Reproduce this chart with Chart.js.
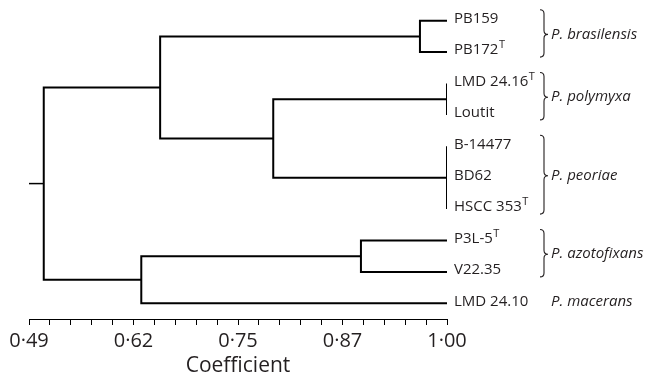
<!DOCTYPE html>
<html>
<head>
<meta charset="utf-8">
<script src="https://cdn.jsdelivr.net/npm/chart.js@4"></script>
<style>
  body { margin: 0; background: #fff; }
</style>
</head>
<body>
<canvas id="dendro" width="665" height="379"></canvas>
<script>
// leaves, top to bottom
const leafLabels = ["PB159", "PB172", "LMD 24.16", "Loutit", "B-14477", "BD62", "HSCC 353", "P3L-5", "V22.35", "LMD 24.10"];
const leafMark = ["", "T", "T", "", "", "", "T", "T", "", ""];
const leafCoef = 1.0;

// clusters: node ids 0-9 are leaves, merge k becomes node 10 + k
const mergeChildren = [[0, 1], [2, 3], [4, 5, 6], [11, 12], [10, 13], [7, 8], [15, 9], [14, 16]];
const mergeCoef = [0.967, 1.0, 1.0, 0.788, 0.65, 0.895, 0.627, 0.508];
const rootStart = 0.49;

const speciesNames = ["P. brasilensis", "P. polymyxa", "P. peoriae", "P. azotofixans", "P. macerans"];
const speciesFirst = [0, 2, 4, 7, 9];
const speciesLast = [1, 3, 6, 8, 9];

const tickLabels = ["0·49", "0·62", "0·75", "0·87", "1·00"];
const minorPerMajor = 5;

Chart.defaults.font.family = "'Open Sans', sans-serif";
const INK = "#231f20";

// positions of every node in data units
const nodeX = leafLabels.map(() => leafCoef);
const nodeY = leafLabels.map((_, i) => i);
const datasets = [];

mergeChildren.forEach((kids, k) => {
  const coef = mergeCoef[k];
  const first = kids[0];
  const last = kids[kids.length - 1];
  nodeX.push(coef);
  nodeY.push((nodeY[first] + nodeY[last]) / 2);
  datasets.push({
    data: [
      { x: nodeX[first], y: nodeY[first] },
      { x: coef, y: nodeY[first] },
      { x: coef, y: nodeY[last] },
      { x: nodeX[last], y: nodeY[last] },
    ],
    borderWidth: 2,
  });
  kids.slice(1, -1).forEach((c) => {
    datasets.push({
      data: [{ x: coef, y: nodeY[c] }, { x: nodeX[c], y: nodeY[c] }],
      borderWidth: 2,
    });
  });
});

// stub into the root
const root = nodeX.length - 1;
datasets.push({
  data: [{ x: rootStart, y: nodeY[root] }, { x: nodeX[root], y: nodeY[root] }],
  borderWidth: 1.5,
});

datasets.forEach((d) => {
  d.showLine = true;
  d.borderColor = "#000";
  d.pointRadius = 0;
  d.borderJoinStyle = "miter";
  d.borderCapStyle = "butt";
});

const labelPlugin = {
  id: "leafLabels",
  afterDatasetsDraw(chart) {
    const { ctx, scales } = chart;
    const xs = scales.x;
    const ys = scales.y;
    const right = xs.getPixelForValue(leafCoef);
    const rowY = (i) => ys.getPixelForValue(i) - 2;

    ctx.save();
    ctx.fillStyle = INK;
    ctx.textBaseline = "middle";
    ctx.textAlign = "left";

    leafLabels.forEach((name, i) => {
      ctx.font = "15px 'Open Sans'";
      const x = right + 7;
      ctx.fillText(name, x, rowY(i));
      if (leafMark[i]) {
        const w = ctx.measureText(name).width;
        ctx.font = "11px 'Open Sans'";
        ctx.fillText(leafMark[i], x + w + 0.5, rowY(i) - 5);
      }
    });

    // species braces and names
    ctx.strokeStyle = INK;
    ctx.lineWidth = 1.1;
    speciesNames.forEach((sp, s) => {
      const yt = rowY(speciesFirst[s]);
      const yb = rowY(speciesLast[s]);
      const ym = (yt + yb) / 2;
      if (speciesLast[s] > speciesFirst[s]) {
        const x0 = right + 93;
        const xm = right + 97;
        const x1 = right + 101;
        const top = yt - 9;
        const bot = yb + 7;
        const r = 4;
        ctx.beginPath();
        ctx.moveTo(x0, top);
        ctx.quadraticCurveTo(xm, top, xm, top + r);
        ctx.lineTo(xm, ym - r);
        ctx.quadraticCurveTo(xm, ym, x1, ym);
        ctx.quadraticCurveTo(xm, ym, xm, ym + r);
        ctx.lineTo(xm, bot - r);
        ctx.quadraticCurveTo(xm, bot, x0, bot);
        ctx.stroke();
      }
      ctx.font = "italic 15px 'Open Sans'";
      ctx.fillText(sp, right + 104, ym);
    });
    ctx.restore();
  },
};

new Chart(document.getElementById("dendro"), {
  type: "scatter",
  data: { datasets },
  options: {
    responsive: false,
    animation: false,
    layout: { padding: { top: 5, left: 29, right: 218, bottom: 0 } },
    plugins: {
      legend: { display: false },
      tooltip: { enabled: false },
    },
    scales: {
      x: {
        type: "linear",
        min: rootStart,
        max: leafCoef,
        afterBuildTicks(scale) {
          const n = (tickLabels.length - 1) * minorPerMajor;
          const step = (scale.max - scale.min) / n;
          scale.ticks = [];
          for (let i = 0; i <= n; i++) scale.ticks.push({ value: scale.min + i * step });
        },
        afterFit(scale) {
          scale.height = 60;
        },
        ticks: {
          autoSkip: false,
          maxRotation: 0,
          padding: 4,
          color: INK,
          font: { size: 20 },
          callback: (v, i) => (i % minorPerMajor === 0 ? tickLabels[i / minorPerMajor] : ""),
        },
        grid: {
          drawOnChartArea: false,
          drawTicks: true,
          tickLength: 6,
          color: "#000",
          lineWidth: 1,
        },
        border: { display: true, color: "#000", width: 1 },
        title: {
          display: true,
          text: "Coefficient",
          color: INK,
          font: { size: 21 },
          padding: { top: 0, bottom: 0 },
        },
      },
      y: {
        type: "linear",
        reverse: true,
        min: -0.5,
        max: 9.5,
        display: false,
      },
    },
  },
  plugins: [labelPlugin],
});
</script>
</body>
</html>
